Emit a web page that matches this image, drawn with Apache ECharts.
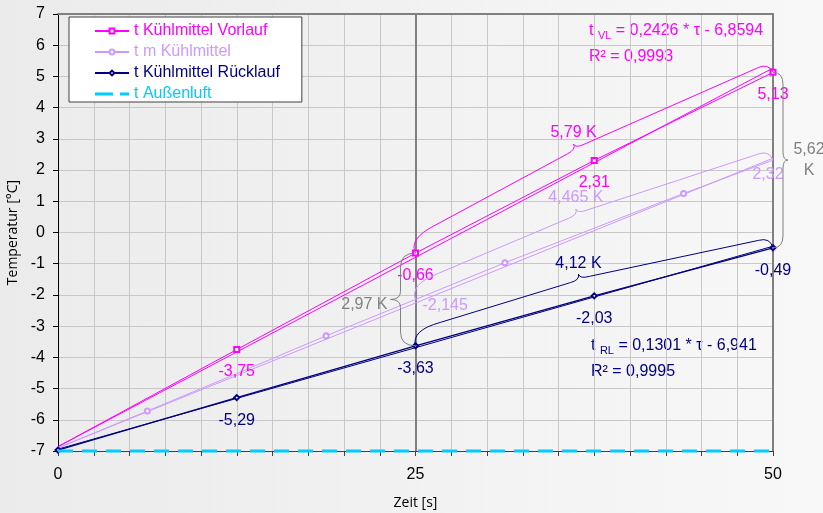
<!DOCTYPE html>
<html><head><meta charset="utf-8">
<script src="https://cdn.jsdelivr.net/npm/echarts@6/dist/echarts.min.js"></script>
<style>html,body{margin:0;padding:0;background:#eee;}#c{width:823px;height:513px;}</style>
</head><body><div id="c"></div>
<script>
// ---------- data ----------
const timeX = [0, 12.5, 25, 37.5, 50];
const vorlauf = [-6.86, -3.75, -0.66, 2.31, 5.13];
const ruecklauf = [-6.97, -5.29, -3.63, -2.03, -0.49];
const mittelX = [0, 6.25, 12.5, 18.75, 25, 31.25, 37.5, 43.75, 50];
const mittel = [-6.9, -5.72, -4.52, -3.31, -2.145, -0.97, 0.14, 1.25, 2.32];
const aussenX = [0, 50];
const aussen = [-7, -7];
const trendX = [0, 50];
const vlTrend = [-6.86, 5.27];
const tmTrend = [-6.9, 2.38];
const rlTrend = [-6.94, -0.44];
const xTickLabels = [0, 25, 50];
const seriesNames = ['t Kühlmittel Vorlauf', 't m Kühlmittel', 't Kühlmittel Rücklauf', 't Außenluft'];
const braceLabels = ['5,79 K', '4,465 K', '4,12 K', '2,97 K', '5,62\nK'];
const vlEquation = ['t ', 'VL', ' = 0,2426 * τ - 6,8594', 'R² = 0,9993'];
const rlEquation = ['t ', 'RL', ' = 0,1301 * τ - 6,941', 'R² = 0,9995'];

// ---------- styles ----------
const FONT = "'Liberation Sans', Arial, sans-serif";
const MAG = '#ff00ff', LAV = '#cc99ff', NAVY = '#000080', CYAN = '#00ccff', GRAY = '#808080';
const fmt = v => String(v).replace('.', ',');

const braces = [
  [timeX[2], vorlauf[2], timeX[4], vorlauf[4]],
  [mittelX[4], mittel[4], mittelX[8], mittel[8]],
  [timeX[2], ruecklauf[2], timeX[4], ruecklauf[4]],
  [timeX[2], vorlauf[2], timeX[2], ruecklauf[2]],
  [timeX[4], vorlauf[4], timeX[4], ruecklauf[4]]
];
const HB = {side: 1, r0: 30, hL0: 16, hL1: 20, w: 26, hR0: 21, hR1: 11, r1: 12, rp: 10, p: 0.475, lab: 'above'};
const braceStyles = [
  Object.assign({color: MAG}, HB),
  Object.assign({color: LAV}, HB),
  Object.assign({color: NAVY}, HB),
  {color: GRAY, side: -1, r0: 14, hL0: 15, hL1: 15, w: 25, hR0: 15, hR1: 15, r1: 14, rp: 8, p: 0.5, lab: 'left'},
  {color: GRAY, side: 1, r0: 12, hL0: 10, hL1: 10, w: 15, hR0: 10, hR1: 10, r1: 12, rp: 8, p: 0.5, lab: 'right'}
];

function bracePath(p0, p1, st) {
  const dx = p1[0] - p0[0], dy = p1[1] - p0[1];
  const L = Math.hypot(dx, dy);
  const ux = dx / L, uy = dy / L;
  const nx = uy * st.side, ny = -ux * st.side;
  const P = (u, v) => [p0[0] + u * ux + v * nx, p0[1] + u * uy + v * ny];
  const f = a => a[0].toFixed(2) + ' ' + a[1].toFixed(2);
  const pk = L * st.p;
  const d = 'M' + f(P(0, 0)) + ' Q' + f(P(0, st.hL0)) + ' ' + f(P(st.r0, st.hL0)) +
    ' L' + f(P(pk - st.rp, st.hL1)) + ' Q' + f(P(pk, st.hL1)) + ' ' + f(P(pk, st.w)) +
    ' Q' + f(P(pk, st.hR0)) + ' ' + f(P(pk + st.rp, st.hR0)) +
    ' L' + f(P(L - st.r1, st.hR1)) + ' Q' + f(P(L, st.hR1)) + ' ' + f(P(L, 0));
  return {d: d, tip: P(pk, st.w)};
}

function labelCfg(extra) {
  return Object.assign({show: true, fontSize: 16, fontFamily: FONT, formatter: p => fmt(p.value[1])}, extra);
}

const vlData = timeX.map((x, i) => ({
  value: [x, vorlauf[i]],
  symbolSize: i === 0 ? 0 : 5,
  label: i === 0 ? {show: false} : labelCfg({position: 'bottom', distance: 11, color: MAG})
}));
const rlData = timeX.map((x, i) => ({
  value: [x, ruecklauf[i]],
  label: i === 0 ? {show: false} : labelCfg({position: 'bottom', distance: 11, color: NAVY})
}));
const tmData = mittelX.map((x, i) => {
  const item = {value: [x, mittel[i]], symbolSize: (i % 2 === 1) ? 5 : 0, label: {show: false}};
  if (i === 4) item.label = labelCfg({position: 'right', distance: 7, offset: [0, 6], color: LAV});
  if (i === 8) item.label = labelCfg({position: 'bottom', distance: 7, offset: [-5, 0], color: LAV});
  return item;
});
const pairs = (xs, ys) => xs.map((x, i) => [x, ys[i]]);

const chart = echarts.init(document.getElementById('c'), null, {renderer: 'canvas'});
chart.setOption({
  animation: false,
  backgroundColor: {type: 'linear', x: 0, y: 0, x2: 1, y2: 0,
    colorStops: [{offset: 0, color: '#ebebeb'}, {offset: 1, color: '#f8f8f8'}]},
  grid: {left: 58, right: 50, top: 14, bottom: 62, containLabel: false, outerBoundsMode: 'none'},
  legend: {
    orient: 'vertical', left: 69, top: 17,
    backgroundColor: '#ffffff', borderColor: '#404040', borderWidth: 1,
    padding: [6, 22, 0, 25], itemWidth: 34, itemHeight: 6, itemGap: 5,
    textStyle: {fontSize: 16, fontFamily: FONT, lineHeight: 16},
    data: seriesNames.map((n, i) => {
      const d = {name: n, textStyle: {color: [MAG, LAV, NAVY, CYAN][i]}};
      if (i === 3) d.icon = 'path://M0 0H18V3H0Z M25 0H34V3H25Z';
      return d;
    })
  },
  xAxis: [{
    type: 'value', min: 0, max: 50, interval: 2.5,
    axisLine: {show: true, onZero: false, lineStyle: {color: '#404040', width: 1}},
    axisTick: {show: true, length: 5, lineStyle: {color: '#404040'}},
    axisLabel: {color: '#000', fontSize: 16, fontFamily: FONT, margin: 16, showMinLabel: true, showMaxLabel: true,
      formatter: v => (xTickLabels.indexOf(v) >= 0 ? String(v) : '')},
    splitLine: {show: true, lineStyle: {color: '#c8c8c8', width: 1}},
    name: 'Zeit [s]', nameLocation: 'middle', nameGap: 45,
    nameTextStyle: {fontFamily: "'Open Sans', sans-serif", fontSize: 14, color: '#000'}
  }, {
    type: 'value', min: 0, max: 50, position: 'top',
    axisLine: {show: true, onZero: false, lineStyle: {color: GRAY, width: 2}},
    axisTick: {show: false}, axisLabel: {show: false}, splitLine: {show: false}
  }],
  yAxis: [{
    type: 'value', min: -7, max: 7, interval: 1,
    axisLine: {show: true, onZero: false, lineStyle: {color: '#000', width: 1}},
    axisTick: {show: true, length: 5, lineStyle: {color: '#000'}},
    axisLabel: {color: '#000', fontSize: 16, fontFamily: FONT, margin: 13},
    splitLine: {show: true, lineStyle: {color: '#c8c8c8', width: 1}},
    name: 'Temperatur [°C]', nameLocation: 'middle', nameGap: 35,
    nameTextStyle: {fontFamily: "'Open Sans', sans-serif", fontSize: 14, color: '#000'}
  }, {
    type: 'value', min: -7, max: 7, position: 'right',
    axisLine: {show: true, onZero: false, lineStyle: {color: GRAY, width: 2}},
    axisTick: {show: false}, axisLabel: {show: false}, splitLine: {show: false}
  }],
  graphic: [
    {type: 'text', left: 589, top: 23, silent: true, style: {
      text: '{b|' + vlEquation[0] + '}{s|' + vlEquation[1] + '}{b|' + vlEquation[2] + '}',
      rich: {b: {fontSize: 16, fontFamily: FONT, fill: MAG, lineHeight: 20},
             s: {fontSize: 11, fontFamily: FONT, fill: MAG, lineHeight: 12, verticalAlign: 'bottom'}}}},
    {type: 'text', left: 589, top: 49, silent: true, style: {text: vlEquation[3], fontSize: 16, fontFamily: FONT, fill: MAG}},
    {type: 'text', left: 591, top: 338, silent: true, style: {
      text: '{b|' + rlEquation[0] + '}{s|' + rlEquation[1] + '}{b|' + rlEquation[2] + '}',
      rich: {b: {fontSize: 16, fontFamily: FONT, fill: NAVY, lineHeight: 20},
             s: {fontSize: 11, fontFamily: FONT, fill: NAVY, lineHeight: 12, verticalAlign: 'bottom'}}}},
    {type: 'text', left: 591, top: 364, silent: true, style: {text: rlEquation[3], fontSize: 16, fontFamily: FONT, fill: NAVY}}
  ],
  series: [
    {name: 'VL Trend', type: 'line', data: pairs(trendX, vlTrend), symbol: 'none', silent: true,
      lineStyle: {color: MAG, width: 1}, z: 2},
    {name: 'TM Trend', type: 'line', data: pairs(trendX, tmTrend), symbol: 'none', silent: true,
      lineStyle: {color: LAV, width: 1}, z: 2},
    {name: 'RL Trend', type: 'line', data: pairs(trendX, rlTrend), symbol: 'none', silent: true,
      lineStyle: {color: NAVY, width: 1}, z: 2},
    {name: seriesNames[0], type: 'line', data: vlData, symbol: 'emptyRect', symbolSize: 5,
      itemStyle: {color: MAG}, lineStyle: {color: MAG, width: 1}, z: 3,
      markLine: {silent: true, symbol: 'none', label: {show: false},
        lineStyle: {color: GRAY, width: 2, type: 'solid'}, data: [{xAxis: 25}], z: 1}},
    {name: seriesNames[1], type: 'line', data: tmData, symbol: 'emptyCircle', symbolSize: 5,
      itemStyle: {color: LAV}, lineStyle: {color: LAV, width: 1}, z: 3},
    {name: seriesNames[2], type: 'line', data: rlData, symbol: 'emptyDiamond', symbolSize: 5,
      itemStyle: {color: NAVY}, lineStyle: {color: NAVY, width: 1.3}, z: 3},
    {name: seriesNames[3], type: 'line', data: pairs(aussenX, aussen), symbol: 'none', clip: false,
      itemStyle: {color: CYAN}, lineStyle: {color: CYAN, width: 3, type: [15, 9]}, z: 4},
    {name: 'Klammern', type: 'custom', coordinateSystem: 'cartesian2d', data: braces,
      encode: {x: [0, 2], y: [1, 3]}, silent: true, clip: false, z: 5,
      renderItem: function (params, api) {
        const i = params.dataIndex, st = braceStyles[i];
        const p0 = api.coord([api.value(0), api.value(1)]);
        const p1 = api.coord([api.value(2), api.value(3)]);
        const b = bracePath(p0, p1, st);
        let tx, ty, align, lh = 16;
        if (st.lab === 'above') { tx = b.tip[0]; ty = b.tip[1] - 11; align = 'center'; }
        else if (st.lab === 'left') { tx = b.tip[0] - 3; ty = b.tip[1] + 5; align = 'right'; }
        else { tx = b.tip[0] + 21; ty = b.tip[1]; align = 'center'; lh = 21; }
        return {type: 'group', children: [
          {type: 'path', shape: {pathData: b.d}, style: {stroke: st.color, fill: 'none', lineWidth: 1}},
          {type: 'text', x: tx, y: ty, style: {text: braceLabels[i], fill: st.color, fontSize: 16,
            fontFamily: FONT, align: align, verticalAlign: 'middle', lineHeight: lh}}
        ]};
      }}
  ]
});
</script>
</body></html>
